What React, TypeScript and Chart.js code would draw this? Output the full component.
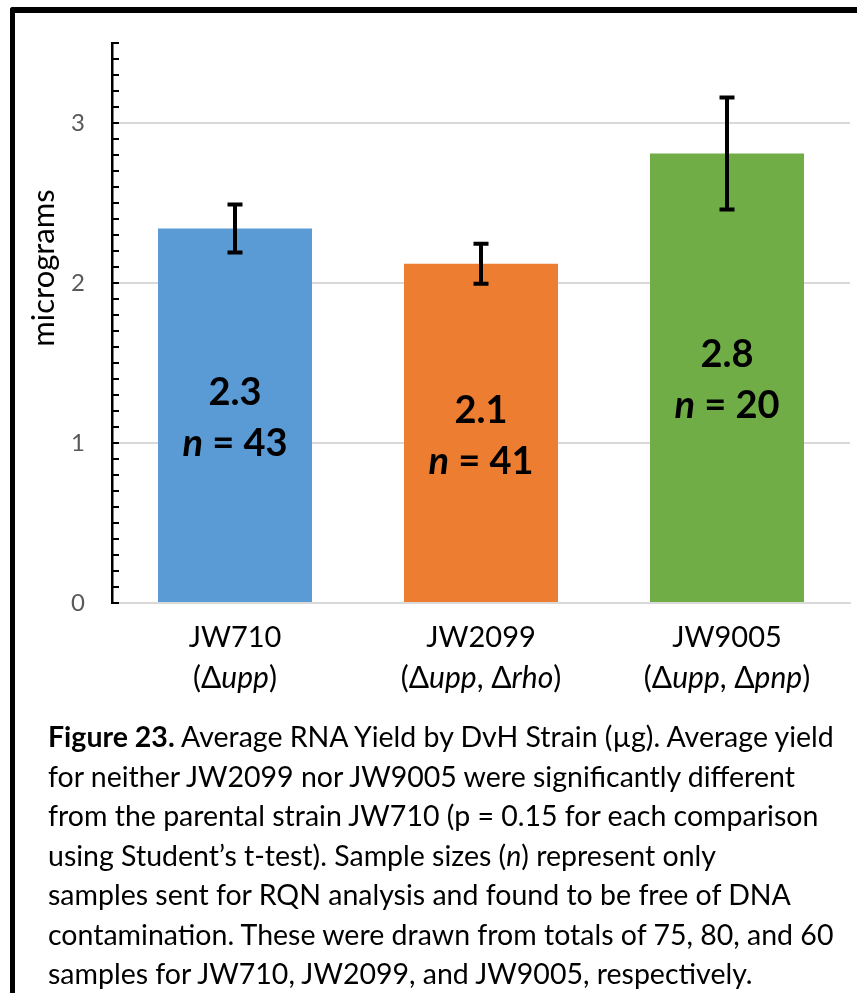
import React, { useEffect, useRef } from 'react';
import { Chart, registerables } from 'chart.js';

Chart.register(...registerables);

// ---- data ----
const categories = ['JW710', 'JW2099', 'JW9005'];
// genotype segments: even index = upright, odd index = italic
const genotypes = [
  ['(Δ', 'upp', ')'],
  ['(Δ', 'upp', ', Δ', 'rho', ')'],
  ['(Δ', 'upp', ', Δ', 'pnp', ')'],
];
const means = [2.34, 2.12, 2.81];
const errors = [0.15, 0.125, 0.35];
const valueLabels = ['2.3', '2.1', '2.8'];
const sampleSizes = [43, 41, 20];
const barColors = ['#5B9BD5', '#ED7D31', '#70AD47'];
const yMajorTicks = [0, 1, 2, 3];
const yMin = 0;
const yMax = 3.5;
const yMinorStep = 0.1;
const yTitle = 'micrograms';

const FONT = 'Lato, "Open Sans", sans-serif';

const customDraw = {
  id: 'customDraw',
  afterDatasetsDraw(chart: any) {
    const { ctx, chartArea } = chart;
    const xs = chart.scales.x;
    const ys = chart.scales.y;
    ctx.save();

    // minor/major inward ticks on y axis
    ctx.strokeStyle = '#000';
    ctx.lineWidth = 2;
    const nSteps = Math.round((yMax - yMin) / yMinorStep);
    for (let k = 0; k <= nSteps; k++) {
      const v = yMin + k * yMinorStep;
      const py = Math.round(ys.getPixelForValue(v));
      ctx.beginPath();
      ctx.moveTo(chartArea.left, py);
      ctx.lineTo(chartArea.left + 7, py);
      ctx.stroke();
    }

    // error bars
    ctx.strokeStyle = '#000';
    ctx.lineWidth = 4;
    ctx.lineCap = 'butt';
    means.forEach((m, i) => {
      const cx = xs.getPixelForValue(i);
      const top = ys.getPixelForValue(m + errors[i]);
      const bot = ys.getPixelForValue(m - errors[i]);
      ctx.beginPath();
      ctx.moveTo(cx, top);
      ctx.lineTo(cx, bot);
      ctx.moveTo(cx - 7.5, top);
      ctx.lineTo(cx + 7.5, top);
      ctx.moveTo(cx - 7.5, bot);
      ctx.lineTo(cx + 7.5, bot);
      ctx.stroke();
    });

    // data labels inside bars
    ctx.fillStyle = '#000';
    ctx.textBaseline = 'middle';
    means.forEach((m, i) => {
      const cx = xs.getPixelForValue(i);
      const barTop = ys.getPixelForValue(m);
      const barBot = ys.getPixelForValue(0);
      const mid = (barTop + barBot) / 2;
      const boldFont = `bold 38px ${FONT}`;
      const italicFont = `italic bold 38px ${FONT}`;
      ctx.font = boldFont;
      ctx.textAlign = 'center';
      ctx.fillText(valueLabels[i], cx, mid - 23);
      ctx.font = italicFont;
      const w1 = ctx.measureText('n').width;
      ctx.font = boldFont;
      const rest = ` = ${sampleSizes[i]}`;
      const w2 = ctx.measureText(rest).width;
      const x0 = cx - (w1 + w2) / 2;
      ctx.textAlign = 'left';
      ctx.font = italicFont;
      ctx.fillText('n', x0, mid + 28);
      ctx.font = boldFont;
      ctx.fillText(rest, x0 + w1, mid + 28);
    });

    // x axis category labels (two lines, mixed italic)
    ctx.fillStyle = '#000';
    ctx.textBaseline = 'middle';
    categories.forEach((c, i) => {
      const cx = xs.getPixelForValue(i);
      ctx.font = `29px ${FONT}`;
      ctx.textAlign = 'center';
      ctx.fillText(c, cx, chartArea.bottom + 35);
      const segs = genotypes[i];
      let total = 0;
      const widths = segs.map((s, k) => {
        ctx.font = `${k % 2 ? 'italic ' : ''}30px ${FONT}`;
        const w = ctx.measureText(s).width;
        total += w;
        return w;
      });
      let x = cx - total / 2;
      ctx.textAlign = 'left';
      segs.forEach((s, k) => {
        ctx.font = `${k % 2 ? 'italic ' : ''}30px ${FONT}`;
        ctx.fillText(s, x, chartArea.bottom + 75);
        x += widths[k];
      });
    });

    // y axis title
    ctx.save();
    ctx.translate(44, 268);
    ctx.rotate(-Math.PI / 2);
    ctx.font = `31px ${FONT}`;
    ctx.textAlign = 'center';
    ctx.textBaseline = 'middle';
    ctx.fillStyle = '#000';
    ctx.fillText(yTitle, 0, 0);
    ctx.restore();

    ctx.restore();
  },
};

function ChartView() {
  const ref = useRef<HTMLCanvasElement>(null);
  useEffect(() => {
    if (!ref.current) return;
    const chart = new Chart(ref.current, {
      type: 'bar',
      data: {
        labels: categories,
        datasets: [
          {
            data: means,
            backgroundColor: barColors,
            borderWidth: 0,
            categoryPercentage: 1,
            barPercentage: 0.626,
          },
        ],
      },
      options: {
        responsive: false,
        animation: false,
        devicePixelRatio: 1,
        layout: { padding: { top: 43, right: 7, left: 0, bottom: 0 } },
        plugins: {
          legend: { display: false },
          tooltip: { enabled: false },
        },
        scales: {
          x: {
            grid: { display: false, drawTicks: false },
            border: { display: true, color: '#d9d9d9', width: 2 },
            ticks: { display: false },
            afterFit: (s: any) => {
              s.height = 97;
            },
          },
          y: {
            min: yMin,
            max: yMax,
            afterBuildTicks: (s: any) => {
              s.ticks = yMajorTicks.map((v) => ({ value: v }));
            },
            grid: { color: '#d9d9d9', lineWidth: 2, drawTicks: false },
            border: { display: true, color: '#000', width: 2.5 },
            ticks: {
              padding: 27,
              color: '#595959',
              font: { family: FONT, size: 24 },
            },
            afterFit: (s: any) => {
              s.width = 112;
            },
          },
        },
      },
      plugins: [customDraw],
    });
    return () => chart.destroy();
  }, []);
  return (
    <canvas
      ref={ref}
      width={857}
      height={700}
      style={{ position: 'absolute', left: 0, top: 0, width: 857, height: 700 }}
    />
  );
}

const captionStyle: React.CSSProperties = {
  position: 'absolute',
  left: 48,
  top: 717,
  fontFamily: FONT,
  fontSize: 28.5,
  lineHeight: '39.5px',
  color: '#000',
  whiteSpace: 'nowrap',
};

export default function App() {
  return (
    <div
      style={{
        position: 'absolute',
        left: 0,
        top: 0,
        width: 857,
        height: 993,
        background: '#fff',
        overflow: 'hidden',
      }}
    >
      <ChartView />
      <div
        style={{
          position: 'absolute',
          left: 10,
          top: 7,
          width: 900,
          height: 1100,
          borderTop: '6px solid #000',
          borderLeft: '5px solid #000',
          borderTopLeftRadius: 3,
          boxSizing: 'border-box',
          pointerEvents: 'none',
        }}
      />
      <div style={captionStyle}>
        <div>
          <b>Figure 23.</b> Average RNA Yield by DvH Strain (µg). Average yield
        </div>
        <div>for neither JW2099 nor JW9005 were significantly different</div>
        <div>from the parental strain JW710 (p = 0.15 for each comparison</div>
        <div>
          using Student’s t-test). Sample sizes (<i>n</i>) represent only
        </div>
        <div>samples sent for RQN analysis and found to be free of DNA</div>
        <div>contamination. These were drawn from totals of 75, 80, and 60</div>
        <div>samples for JW710, JW2099, and JW9005, respectively.</div>
      </div>
    </div>
  );
}
